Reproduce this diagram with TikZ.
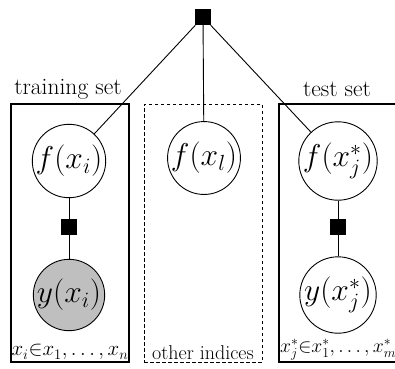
\documentclass[tikz,border=0pt]{standalone}
\begin{document}
\begin{tikzpicture}[x=1pt,y=-1pt,
  font=\fontsize{23.5}{27}\selectfont,
  plate/.style={draw,line width=1.3pt,minimum width=118pt,minimum height=258pt,inner sep=0pt},
  dplate/.style={plate,dashed,line width=0.9pt,dash pattern=on 3.5pt off 2.5pt},
  var/.style={circle,draw,line width=0.9pt,minimum size=68pt,inner sep=0pt,fill=white,font=\fontsize{20.74}{24}\selectfont},
  obs/.style={var,fill=black!25},
  fac/.style={rectangle,fill=black,minimum size=16pt,inner sep=0pt},
  blabel/.style={inner sep=2.5pt,font=\fontsize{20.74}{24}\selectfont},
  conn/.style={line width=0.9pt}]
\useasboundingbox (0,0) rectangle (395,368);
% plates
\node[plate] (ptrain) at (70,233) {};
\node[dplate] (pother) at (203,233) {};
\node[plate] (ptest) at (338,233) {};
\node (ltrain) at (68,89) {training set};
\node (ltest) at (337,89) {test set};
\node[blabel,anchor=south] (btrain) at (ptrain.south) {\scalebox{1.01}{$x_i{\in}x_1,\dots,x_n$}};
\node[blabel,anchor=south,font=\fontsize{20}{23}\selectfont] (bother) at (pother.south) {other indices};
\node[blabel,anchor=south west,inner xsep=1.5pt] (btest) at (ptest.south west) {\scalebox{0.95}{$x^*_j{\in}x^*_1,\dots,x^*_m$}};
% top factor
\node[fac] (top) at (203,17) {};
% variables
\node[var] (fi) at (69,161) {\scalebox{1.52}{$f(x_i)$}};
\node[var] (fl) at (204,158) {\scalebox{1.52}{$f(x_l)$}};
\node[var] (fj) at (338,161) {\scalebox{1.52}{$f(x^*_j)$}};
\node[fac] (gi) at (69,227) {};
\node[fac] (gj) at (338,227) {};
\node[obs] (yi) at (69,295) {\scalebox{1.52}{$y(x_i)$}};
\node[var] (yj) at (338,295) {\scalebox{1.52}{$y(x^*_j)$}};
% connectors
\draw[conn] (top) -- (fi);
\draw[conn] (top) -- (fl);
\draw[conn] (top) -- (fj);
\draw[conn] (fi) -- (gi) -- (yi);
\draw[conn] (fj) -- (gj) -- (yj);
\end{tikzpicture}
\end{document}
